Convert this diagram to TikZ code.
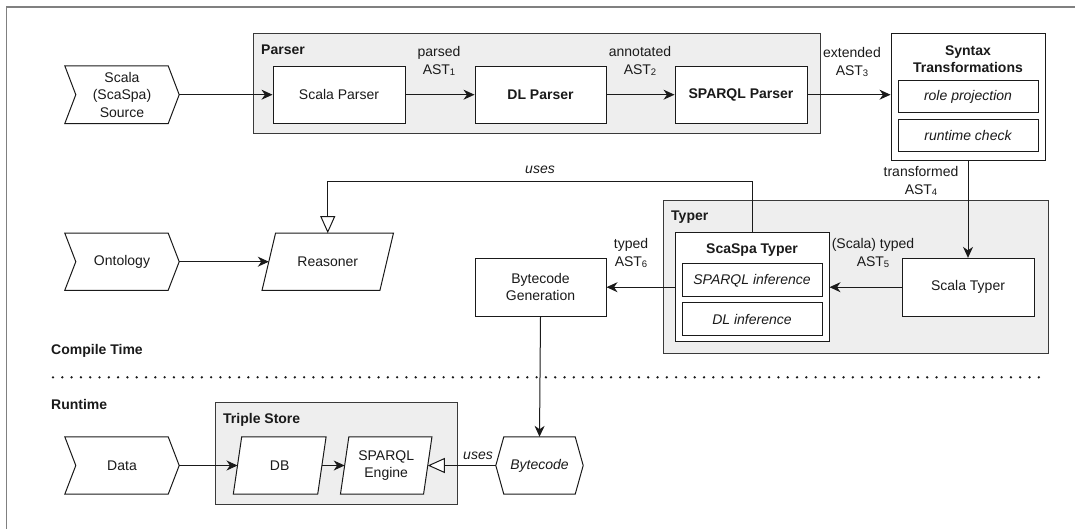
\documentclass[tikz,border=0pt]{standalone}
\usepackage{fontspec}
\setmainfont{Liberation Sans}
\usetikzlibrary{arrows.meta,calc}
\definecolor{linec}{HTML}{1A1A1A}
\definecolor{grpfill}{HTML}{EEEEEE}
\definecolor{grpline}{HTML}{3A3A3A}
\definecolor{framec}{HTML}{808080}
\newcommand{\subd}[1]{\raisebox{-0.2ex}{\fontsize{9.5}{10}\selectfont#1}}
\pgfdeclarelayer{back}\pgfdeclarelayer{mid}\pgfsetlayers{back,mid,main}
\begin{document}
\begin{tikzpicture}[x=1pt,y=-1pt,
  every node/.style={font=\fontsize{14}{17.5}\selectfont, text=linec},
  box/.style={draw=linec, fill=white, line width=1pt, inner sep=0pt, align=center},
  ghost/.style={inner sep=0pt, align=center},
  shp/.style={draw=linec, fill=white, line width=1pt, line join=miter},
  grp/.style={draw=grpline, fill=grpfill, line width=1pt, inner sep=0pt},
  glabel/.style={font=\bfseries\fontsize{14}{17}\selectfont, anchor=west, inner sep=0pt},
  lbl/.style={align=center, inner sep=0pt},
  conn/.style={draw=linec, line width=1pt, -{Stealth[length=11pt,width=10pt,inset=3.5pt]}},
  usesc/.style={draw=linec, line width=1pt, -{Triangle[open,length=17pt,width=15pt,fill=white]}},
]
\useasboundingbox (0,0) rectangle (1075,529);
\draw[framec, line width=1.2pt] (6.5,529) -- (6.5,7) -- (1075,7);

% groups
\begin{pgfonlayer}{back}
\node[grp, minimum width=567pt, minimum height=100pt] (parser) at (536.5,83.3) {};
\node[grp, minimum width=385pt, minimum height=153.3pt] (typer) at (855.5,276.7) {};
\node[grp, minimum width=242pt, minimum height=101.5pt] (store) at (336.7,453.7) {};
\end{pgfonlayer}
\node[glabel] (parserlbl) at (261,50) {Parser};
\node[glabel] (typerlbl) at (671,216.7) {Typer};
\node[glabel] (storelbl) at (223,420) {Triple Store};

% boxes
\node[box, minimum width=132pt, minimum height=57.3pt] (sp) at (339,94.7) {Scala Parser};
\node[box, minimum width=131pt, minimum height=57.3pt, font=\bfseries\fontsize{14}{17}\selectfont] (dl) at (540.5,94.7) {DL Parser};
\node[box, minimum width=132pt, minimum height=57.3pt, font=\bfseries\fontsize{14}{17}\selectfont] (sq) at (741,94.7) {SPARQL Parser};

\node[box, minimum width=154pt, minimum height=126.7pt] (syn) at (968,96.7) {};
\node[lbl, font=\bfseries\fontsize{14}{17}\selectfont] (syntitle) at (968,59) {Syntax\\Transformations};
\node[box, minimum width=140pt, minimum height=32pt, font=\itshape\fontsize{14}{17}\selectfont] (rp) at (968,96.7) {role projection};
\node[box, minimum width=140pt, minimum height=32.3pt, font=\itshape\fontsize{14}{17}\selectfont] (rc) at (968,135.5) {runtime check};

\node[box, minimum width=154pt, minimum height=109pt] (sct) at (752,287.2) {};
\node[lbl, font=\bfseries\fontsize{14}{17}\selectfont] (scttitle) at (752,250) {ScaSpa Typer};
\node[box, minimum width=140pt, minimum height=32.7pt, font=\itshape\fontsize{14}{17}\selectfont] (spi) at (752,280.3) {SPARQL inference};
\node[box, minimum width=140pt, minimum height=32.7pt, font=\itshape\fontsize{14}{17}\selectfont] (dli) at (752,319) {DL inference};

\node[box, minimum width=132pt, minimum height=57.7pt] (st) at (968,287.2) {Scala Typer};
\node[box, minimum width=131pt, minimum height=57.7pt] (bg) at (540.5,287.2) {Bytecode\\Generation};

% shaped nodes
\node[ghost, minimum width=114pt, minimum height=57.3pt] (src) at (122,94.7) {Scala\\(ScaSpa)\\Source};
\node[ghost, minimum width=114pt, minimum height=56.7pt] (ont) at (122,261.7) {Ontology};
\node[ghost, minimum width=114pt, minimum height=57pt] (data) at (122,465.5) {Data};
\node[ghost, minimum width=117.5pt, minimum height=56.7pt] (reasoner) at (327.75,261.7) {Reasoner};
\node[ghost, minimum width=84pt, minimum height=57pt] (db) at (279.7,465.5) {DB};
\node[ghost, minimum width=82.7pt, minimum height=57pt] (eng) at (386.2,465.5) {SPARQL\\Engine};
\node[ghost, minimum width=87pt, minimum height=57pt, font=\itshape\fontsize{14}{17}\selectfont] (bc) at (539.5,465.5) {Bytecode};

\begin{pgfonlayer}{mid}
\foreach \n in {src,ont,data}{
  \draw[shp] (\n.north west) -- ([xshift=-11pt]\n.north east) -- (\n.east) -- ([xshift=-11pt]\n.south east) -- (\n.south west) -- ([xshift=11pt]\n.west) -- cycle;
}
\draw[shp] ([xshift=6.75pt]reasoner.north west) -- ([xshift=6.75pt]reasoner.north east) -- ([xshift=-6.75pt]reasoner.south east) -- ([xshift=-6.75pt]reasoner.south west) -- cycle;
\foreach \n in {db,eng}{
  \draw[shp] ([xshift=4.2pt]\n.north west) -- ([xshift=4.2pt]\n.north east) -- ([xshift=-4.2pt]\n.south east) -- ([xshift=-4.2pt]\n.south west) -- cycle;
}
\draw[shp] ([xshift=8pt]bc.north west) -- ([xshift=-8pt]bc.north east) -- (bc.east) -- ([xshift=-8pt]bc.south east) -- ([xshift=8pt]bc.south west) -- (bc.west) -- cycle;
\end{pgfonlayer}

% edge labels
\node[lbl] (l1) at (439,61) {parsed\\AST\subd{1}};
\node[lbl] (l2) at (640,61) {annotated\\AST\subd{2}};
\node[lbl] (l3) at (852,62) {extended\\AST\subd{3}};
\node[lbl] (l4) at (921,181.3) {transformed\\AST\subd{4}};
\node[lbl] (l5) at (873,253.3) {(Scala) typed\\AST\subd{5}};
\node[lbl] (l6) at (631,253.3) {typed\\AST\subd{6}};
\node[lbl, font=\itshape\fontsize{14}{17}\selectfont] (u1) at (540,169.5) {uses};
\node[lbl, font=\itshape\fontsize{14}{17}\selectfont] (u2) at (478,456) {uses};

% connectors
\draw[conn] (src.east) -- (sp.west);
\draw[conn] (sp.east) -- (dl.west);
\draw[conn] (dl.east) -- (sq.west);
\draw[conn] (sq.east) -- (sq.east -| syn.west);
\draw[conn] (syn.south) -- (st.north);
\draw[conn] (st.west) -- (st.west -| sct.east);
\draw[conn] (bg.east -| sct.west) -- (bg.east);
\draw[conn] (bg.south) -- (bc.north);
\draw[conn] (ont.east) -- (reasoner.west);
\draw[conn] (data.east) -- (db.west);
\draw[conn] (db.east) -- (eng.west);
\draw[usesc] (bc.west) -- (eng.east);
\draw[usesc] (sct.north) -- ++(0,-51) -| (reasoner.north);

% compile time / runtime
\node[glabel] (ct) at (51,350.7) {Compile Time};
\node[glabel] (rt) at (51,404) {Runtime};
\coordinate (dotA) at (53,377.3);
\coordinate (dotB) at (1045,377.3);
\draw[linec, line width=2.6pt, line cap=round, dash pattern=on 0pt off 9.3pt] (dotA) -- (dotB);
\end{tikzpicture}
\end{document}
